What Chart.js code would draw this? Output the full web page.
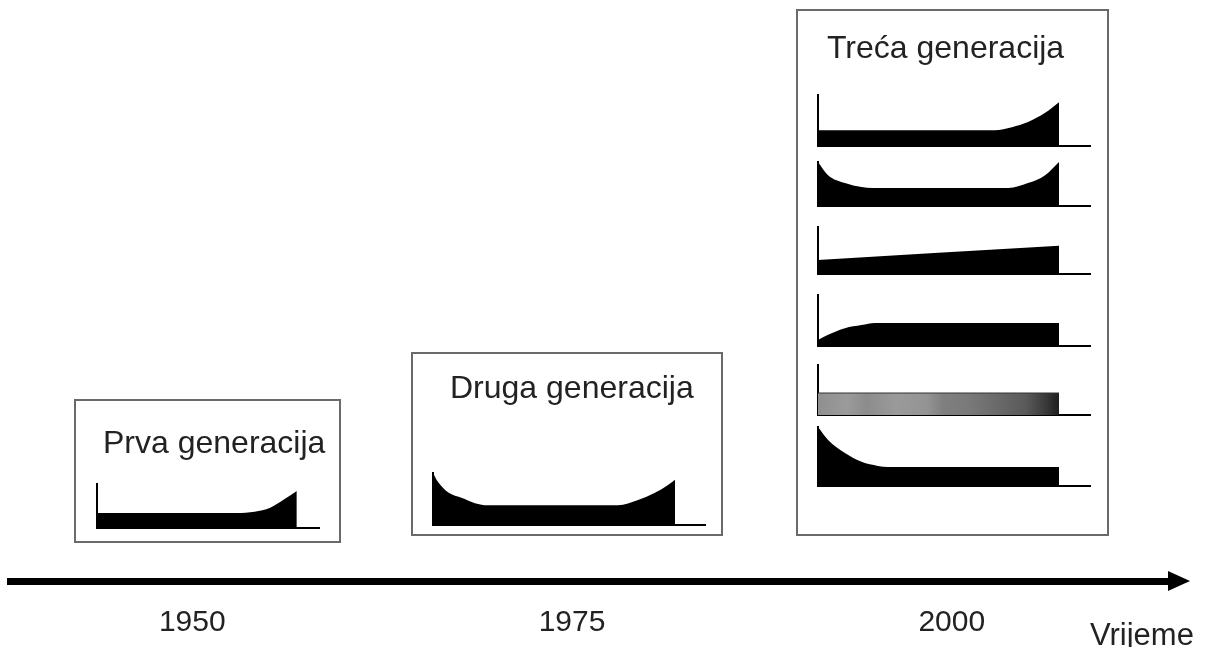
<!DOCTYPE html>
<html>
<head>
<meta charset="utf-8">
<script src="https://cdn.jsdelivr.net/npm/chart.js@4/dist/chart.umd.min.js"></script>
<style>
    html, body { margin: 0; padding: 0; background: #fff; }
    #page { position: relative; width: 1206px; height: 647px; overflow: hidden;
            font-family: "Liberation Sans", Arial, sans-serif; color: #222; }
    .box { position: absolute; box-sizing: border-box; border: 2px solid #6a6a6a; }
    .title { position: absolute; font-size: 32px; line-height: 32px; white-space: nowrap; }
    canvas { position: absolute; }
</style>
</head>
<body>
<div id="page">
    <!-- time axis canvas is tall so the layout gives the tick labels enough room -->
    <canvas id="c-time" width="1206" height="167" style="left:0px; top:480px;"></canvas>

    <div class="box" style="left:74px; top:399px; width:267px; height:144px;"></div>
    <div class="box" style="left:411px; top:352px; width:312px; height:184px;"></div>
    <div class="box" style="left:796px; top:9px; width:313px; height:527px;"></div>

    <div class="title" style="left:103px; top:426px;">Prva generacija</div>
    <div class="title" style="left:450px; top:371px;">Druga generacija</div>
    <div class="title" style="left:827px; top:31px;">Treća generacija</div>
    <div class="title" style="left:1090px; top:619px; font-size:31px; line-height:31px;">Vrijeme</div>

    <!-- each canvas = chart area + 4px padding on every side -->
    <canvas id="c-prva" width="230" height="52" style="left:93px; top:480px;"></canvas>
    <canvas id="c-druga" width="280" height="60" style="left:429px; top:469px;"></canvas>
    <canvas id="c-t1" width="280" height="59" style="left:814px; top:91px;"></canvas>
    <canvas id="c-t2" width="280" height="52" style="left:814px; top:158px;"></canvas>
    <canvas id="c-t3" width="280" height="55" style="left:814px; top:223px;"></canvas>
    <canvas id="c-t4" width="280" height="59" style="left:814px; top:291px;"></canvas>
    <canvas id="c-t5" width="280" height="58" style="left:814px; top:361px;"></canvas>
    <canvas id="c-t6" width="280" height="67" style="left:814px; top:423px;"></canvas>
</div>
<script>
(function () {
    "use strict";

    // Failure-rate curves, t in % of the horizontal axis, rate in % of the axis height.
    var prvaT = [0, 30, 63, 71, 78, 84, 90];
    var prvaRate = [0.34, 0.34, 0.34, 0.37, 0.46, 0.64, 0.84];

    var drugaT = [0, 1.8, 5.5, 10.7, 15.4, 20.2, 68, 75.4, 81.6, 86.4, 89];
    var drugaRate = [1.0, 0.83, 0.63, 0.52, 0.42, 0.38, 0.38, 0.48, 0.62, 0.77, 0.87];

    var t1T = [0, 30, 65, 71.3, 77.2, 83.5, 88.6];
    var t1Rate = [0.31, 0.31, 0.31, 0.37, 0.47, 0.65, 0.86];

    var t2T = [0, 3.7, 9.9, 16, 20, 70, 77.2, 83.5, 88.6];
    var t2Rate = [1.0, 0.70, 0.52, 0.43, 0.41, 0.41, 0.52, 0.70, 1.0];

    var t3T = [0, 88.6];
    var t3Rate = [0.30, 0.60];

    var t4T = [0, 3.7, 9.9, 16, 21, 88.6];
    var t4Rate = [0.12, 0.22, 0.35, 0.41, 0.45, 0.45];

    var t5T = [0, 88.6];
    var t5Rate = [0.44, 0.44];

    var t6T = [0, 3.7, 9.9, 16, 22, 25.7, 88.6];
    var t6Rate = [1.0, 0.78, 0.56, 0.41, 0.34, 0.32, 0.32];

    var years = [1950, 1975, 2000];

    if (typeof Chart === "undefined") {
        return;
    }
    Chart.defaults.font.family = "'Liberation Sans', Arial, sans-serif";

    function points(t, rate) {
        return t.map(function (v, i) {
            return { x: v, y: rate[i] };
        });
    }

    var axisLine = { display: true, color: "#000", width: 2 };

    function curve(id, t, rate, fillColor, lineColor) {
        var canvas = document.getElementById(id);
        if (!canvas) {
            return;
        }
        new Chart(canvas, {
            type: "line",
            data: {
                datasets: [
                    {
                        data: points(t, rate),
                        fill: "origin",
                        backgroundColor: fillColor || "#000",
                        borderColor: lineColor || "#000",
                        borderWidth: lineColor ? 1 : 0,
                        pointRadius: 0,
                        cubicInterpolationMode: "monotone"
                    }
                ]
            },
            options: {
                responsive: false,
                animation: false,
                events: [],
                layout: { padding: 4 },
                plugins: { legend: { display: false }, tooltip: { enabled: false } },
                scales: {
                    x: {
                        type: "linear",
                        min: 0,
                        max: 100,
                        grid: { display: false, drawTicks: false },
                        ticks: { display: false },
                        border: axisLine
                    },
                    y: {
                        min: 0,
                        max: 1,
                        grid: { display: false, drawTicks: false },
                        ticks: { display: false },
                        border: axisLine
                    }
                }
            }
        });
    }

    // banded grey strip of the constant-rate curve
    function greyBands(ctx) {
        var chart = ctx.chart;
        var area = chart.chartArea;
        if (!area) {
            return "#777";
        }
        var end = chart.scales.x.getPixelForValue(t5T[t5T.length - 1]);
        var g = chart.ctx.createLinearGradient(area.left, 0, end, 0);
        g.addColorStop(0, "#8f8f8f");
        g.addColorStop(0.12, "#9b9b9b");
        g.addColorStop(0.2, "#8c8c8c");
        g.addColorStop(0.32, "#9a9a9a");
        g.addColorStop(0.45, "#949494");
        g.addColorStop(0.52, "#7f7f7f");
        g.addColorStop(0.62, "#7a7a7a");
        g.addColorStop(0.74, "#6a6a6a");
        g.addColorStop(0.86, "#5a5a5a");
        g.addColorStop(0.94, "#3c3c3c");
        g.addColorStop(1, "#1e1e1e");
        return g;
    }

    curve("c-prva", prvaT, prvaRate);
    curve("c-druga", drugaT, drugaRate);
    curve("c-t1", t1T, t1Rate);
    curve("c-t2", t2T, t2Rate);
    curve("c-t3", t3T, t3Rate);
    curve("c-t4", t4T, t4Rate);
    curve("c-t5", t5T, t5Rate, greyBands, "#333");
    curve("c-t6", t6T, t6Rate);

    // time axis with arrow head
    var arrowHead = {
        id: "arrowHead",
        afterDraw: function (chart) {
            var a = chart.chartArea;
            var ctx = chart.ctx;
            ctx.save();
            ctx.fillStyle = "#000";
            ctx.beginPath();
            ctx.moveTo(a.right - 4, a.bottom - 10);
            ctx.lineTo(a.right + 18, a.bottom);
            ctx.lineTo(a.right - 4, a.bottom + 10);
            ctx.closePath();
            ctx.fill();
            ctx.restore();
        }
    };

    new Chart(document.getElementById("c-time"), {
        type: "line",
        data: { datasets: [] },
        plugins: [arrowHead],
        options: {
            responsive: false,
            animation: false,
            events: [],
            layout: { padding: { left: 10, right: 34, top: 0, bottom: 6 } },
            plugins: { legend: { display: false }, tooltip: { enabled: false } },
            scales: {
                x: {
                    type: "linear",
                    min: 1938,
                    max: 2014.5,
                    afterBuildTicks: function (scale) {
                        scale.ticks = years.map(function (y) {
                            return { value: y };
                        });
                    },
                    afterFit: function (scale) {
                        scale.height = 60;
                    },
                    grid: { display: false, drawTicks: false },
                    border: { display: true, color: "#000", width: 7 },
                    ticks: {
                        color: "#222",
                        font: { size: 30 },
                        padding: 24,
                        maxRotation: 0,
                        autoSkip: false,
                        callback: function (v) {
                            return String(v);
                        }
                    }
                },
                y: { display: false, min: 0, max: 1 }
            }
        }
    });
})();
</script>
</body>
</html>
